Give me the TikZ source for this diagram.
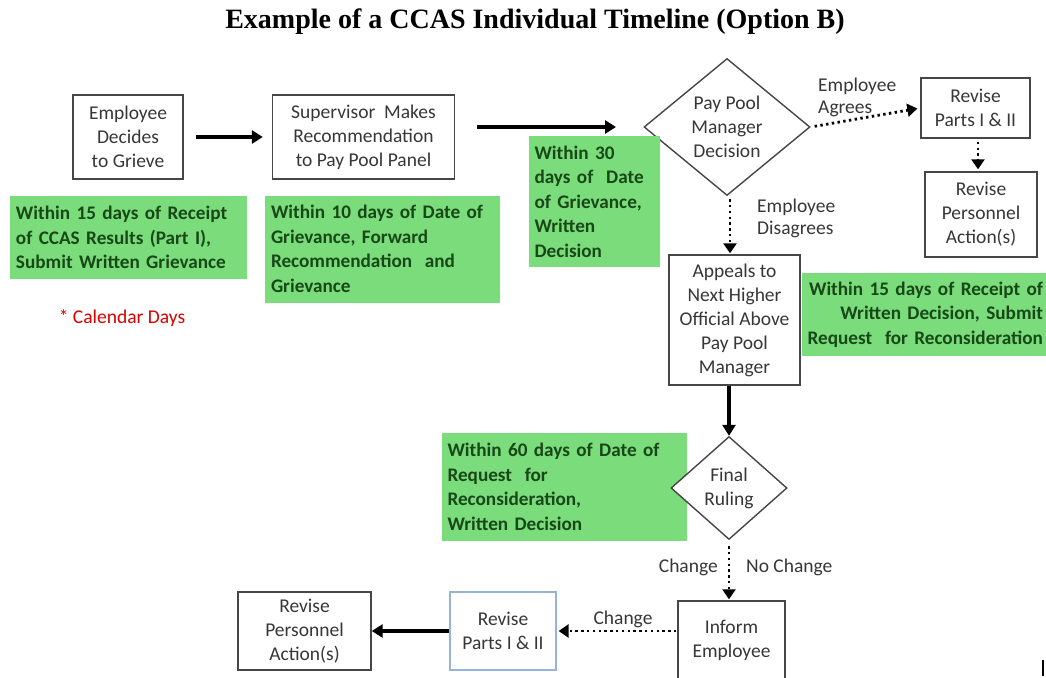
\documentclass[tikz,border=0pt]{standalone}
\usepackage{fontspec}
\setmainfont{Carlito}
\newfontfamily\titlefont{Liberation Serif}
\usetikzlibrary{shapes.geometric,arrows.meta}
\definecolor{gfill}{RGB}{122,220,122}
\definecolor{gtext}{RGB}{24,72,24}
\definecolor{btext}{RGB}{55,55,55}
\definecolor{bline}{RGB}{70,70,70}
\definecolor{blueline}{RGB}{150,180,215}
\tikzset{
  x=1pt, y=-1pt,
  box/.style={draw=bline, line width=1.4pt, fill=white, text=btext, align=center,
    font=\fontsize{19.5}{24}\selectfont, inner sep=2pt},
  dia/.style={diamond, draw=bline, line width=1.4pt, fill=white, text=btext, align=center,
    font=\fontsize{19.5}{24}\selectfont, inner sep=0pt},
  note/.style={fill=gfill, text=gtext, font=\bfseries\fontsize{19.2}{24.5}\selectfont, inner sep=0pt},
  lbl/.style={text=btext, font=\fontsize{19.5}{22}\selectfont, inner sep=0pt},
  solidarr/.style={line width=3.6pt, -{Triangle[length=11pt,width=13pt]}},
  dotarr/.style={line width=2.8pt, dash pattern=on 2.4pt off 3.4pt, -{Triangle[length=10pt,width=13pt]}},
}
\begin{document}
\begin{tikzpicture}
\useasboundingbox (0,0) rectangle (1046,677);
\fill[white] (0,0) rectangle (1046,677);

\node[font=\titlefont\bfseries\fontsize{28}{30}\selectfont] (title) at (535,22) {Example of a CCAS Individual Timeline (Option B)};

% top row
\node[box, minimum width=110, minimum height=84] (emp) at (128,137) {Employee\\Decides\\to Grieve};
\node[box, minimum width=182, minimum height=84] (sup) at (363.5,137) {Supervisor~ Makes\\Recommendation\\to Pay Pool Panel};

\node[note, minimum width=237, minimum height=83, text width=225, align=left] (g1) at (128.5,237.5)
  {Within 15 days of Receipt\\of CCAS Results (Part I),\\Submit Written Grievance};
\node[note, minimum width=235, minimum height=107, text width=223, align=left] (g2) at (382.5,249)
  {Within 10 days of Date of\\Grievance, Forward\\Recommendation~ and\\Grievance};
\node[text=red!85!black, font=\fontsize{19.5}{22}\selectfont] (cal) at (122,318) {* Calendar Days};

\draw[solidarr, shorten <=12pt, shorten >=9pt] (emp) -- (sup);

% pay pool manager decision
\node[dia, minimum width=166, minimum height=137] (ppm) at (727,127) {Pay Pool\\Manager\\Decision};
\node[note, minimum width=131, minimum height=131, text width=120, align=left] (g3) at (594.5,201.5)
  {Within 30\\days of~ Date\\of Grievance,\\Written\\Decision};
\coordinate (a2s) at (477,127);
\draw[solidarr] (a2s) -- (616,127);

\node[box, minimum width=109, minimum height=60] (rp1) at (975.5,108) {Revise\\Parts I \& II};
\node[box, minimum width=112, minimum height=85] (rpa1) at (981,214.5) {Revise\\Personnel\\Action(s)};
\node[lbl, align=left, anchor=west] (agr) at (818,97) {Employee\\Agrees};
\draw[dotarr, shorten <=4pt, shorten >=3pt] (ppm.east) -- (rp1.west);
\draw[dotarr, shorten <=3pt, shorten >=2pt] (rp1.south -| 978,0) -- (rpa1.north -| 978,0);

% appeals
\node[box, minimum width=131, minimum height=130] (app) at (734.5,320) {Appeals to\\Next Higher\\Official Above\\Pay Pool\\Manager};
\node[lbl, align=left, anchor=west] (dis) at (757,218) {Employee\\Disagrees};
\draw[dotarr, shorten <=3pt, shorten >=1pt] (ppm.south -| 730,0) -- (app.north -| 730,0);
\node[note, minimum width=244, minimum height=83, text width=238, align=right] (g4) at (924,314.5)
  {Within 15 days of Receipt of\\Written Decision, Submit\\Request~ for Reconsideration};

% final ruling
\node[note, minimum width=245, minimum height=108, text width=234, align=left] (g5) at (564.5,487)
  {Within 60 days of Date of\\Request~ for\\Reconsideration,\\Written Decision};
\node[dia, minimum width=116, minimum height=103] (fr) at (729,488) {Final\\Ruling};
\draw[solidarr] (app.south -| fr.north) -- (fr.north);

% bottom row
\node[box, minimum width=107, minimum height=78] (inf) at (731.5,640) {Inform\\Employee};
\draw[dotarr, shorten <=6pt, shorten >=1pt] (fr.south) -- (inf.north -| fr.south);
\node[lbl, anchor=east] (chg1) at (718,567) {Change};
\node[lbl, anchor=west] (nochg) at (746,567) {No Change};

\node[box, draw=blueline, line width=1.2pt, minimum width=106, minimum height=78] (rp2) at (503,631) {Revise\\Parts I \& II};
\node[box, minimum width=133, minimum height=78] (rpa2) at (304.5,631) {Revise\\Personnel\\Action(s)};
\draw[dotarr, shorten <=1pt, shorten >=2pt] (inf.west |- rp2.east) -- (rp2.east);
\node[lbl] (chg2) at (623,619) {Change};
\draw[solidarr] (rp2.west) -- (rpa2.east);

\node[fill=black, minimum width=1.5, minimum height=16, inner sep=0pt] (tick) at (1043,668) {};
\end{tikzpicture}
\end{document}
